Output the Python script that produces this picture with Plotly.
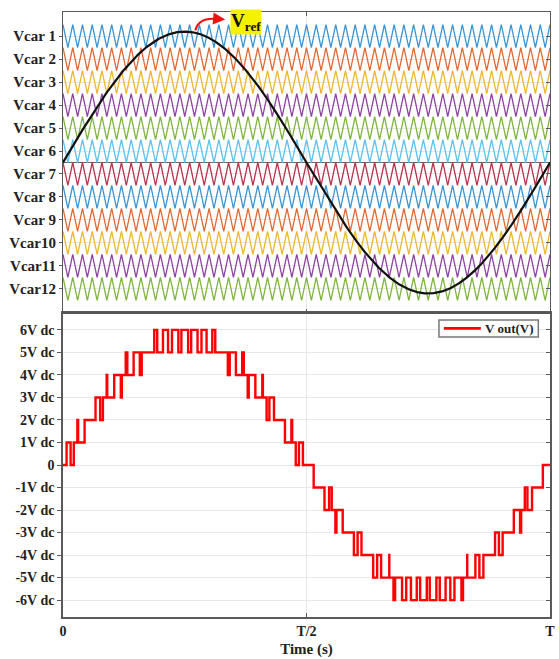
import numpy as np
import plotly.graph_objects as go

# ---------------- data ----------------
carrier_labels = ["Vcar 1", "Vcar 2", "Vcar 3", "Vcar 4", "Vcar 5", "Vcar 6",
                  "Vcar 7", "Vcar 8", "Vcar 9", "Vcar10", "Vcar11", "Vcar12"]
carrier_lower = [5, 4, 3, 2, 1, 0, -1, -2, -3, -4, -5, -6]   # lower level of each carrier band
carrier_cycles = 50            # carrier periods per fundamental period T
vref_amplitude = 5.7           # peak of the reference sine (in carrier-band units)
out_levels = [6, 5, 4, 3, 2, 1, 0, -1, -2, -3, -4, -5, -6]
out_labels = ["6V dc", "5V dc", "4V dc", "3V dc", "2V dc", "1V dc", "0",
              "-1V dc", "-2V dc", "-3V dc", "-4V dc", "-5V dc", "-6V dc"]
x_tickvals = [0, 0.5, 1]
x_ticklabels = ["0", "T/2", "T"]
legend_label = "V out(V)"

# ---------------- styles ----------------
carrier_colors = ["#3A95D2", "#E06A35", "#EDB72E", "#8E45A0", "#80B540", "#5CC2EE",
                  "#B83650", "#3A95D2", "#E06A35", "#EDB72E", "#8E45A0", "#80B540"]
FONT = "Liberation Serif"
AXC = "#5a5a5a"
GRID = "#e8e8e8"

fig = go.Figure()

# carriers (triangle waves, starting at the top of the band)
t_vert = np.linspace(0, 1, 2 * carrier_cycles + 1)
for lab, lo, col in zip(carrier_labels, carrier_lower, carrier_colors):
    yv = np.where(np.arange(t_vert.size) % 2 == 0, lo + 1, lo)
    fig.add_trace(go.Scatter(x=t_vert, y=yv, mode="lines", line=dict(color=col, width=1.3),
                             showlegend=False, hoverinfo="skip", xaxis="x", yaxis="y"))

# reference
t = np.linspace(0, 1, 20001)
vref = np.round(vref_amplitude * np.sin(2 * np.pi * t), 9)
fig.add_trace(go.Scatter(x=t, y=vref, mode="lines", line=dict(color="#111111", width=2.2),
                         showlegend=False, hoverinfo="skip", xaxis="x", yaxis="y"))

# output by comparing reference with carriers
phase = (t * carrier_cycles) % 1.0
tri = np.abs(1 - 2 * phase)  # 1 at t=0, 0 at half period
vout = np.zeros_like(t)
for lo in carrier_lower:
    vout += (vref >= lo + tri).astype(float)
vout -= sum(1 for lo in carrier_lower if lo < 0)
fig.add_trace(go.Scatter(x=t, y=vout, mode="lines", line=dict(color="#ff0000", width=2.4, shape="hv"),
                         name=legend_label, showlegend=False, hoverinfo="skip", xaxis="x2", yaxis="y2"))
# invisible traces for right-side inner tick axes
fig.add_trace(go.Scatter(x=[0], y=[0], mode="markers", marker=dict(opacity=0), showlegend=False,
                         hoverinfo="skip", xaxis="x2", yaxis="y3"))
fig.add_trace(go.Scatter(x=[0], y=[0], mode="markers", marker=dict(opacity=0), showlegend=False,
                         hoverinfo="skip", xaxis="x", yaxis="y4"))

split = 304 / 605
topfont = dict(family=FONT, size=15, color="#222222")
tickfont = dict(family=FONT, size=14, color="#222222")

fig.update_layout(
    width=559, height=659,
    margin=dict(l=63, r=4, t=12, b=42),
    paper_bgcolor="white", plot_bgcolor="white",
    font=dict(family=FONT, color="#222222"),
    xaxis=dict(domain=[0, 1], anchor="y", range=[0, 1], tickvals=x_tickvals, showticklabels=False,
               showgrid=True, gridcolor=GRID, zeroline=False, showline=True, linecolor=AXC, linewidth=1.2,
               mirror="ticks", ticks="inside", ticklen=4, tickcolor=AXC),
    yaxis=dict(domain=[split, 1], anchor="x", range=[-6.55, 6.55],
               tickvals=[lo + 0.5 for lo in carrier_lower], ticktext=[f"<b>{s}</b>" for s in carrier_labels],
               tickfont=topfont, showgrid=True, gridcolor=GRID, zeroline=True, zerolinecolor="#666666",
               zerolinewidth=1.2, showline=True, linecolor=AXC, linewidth=1.2, mirror=True,
               ticks="outside", ticklen=3, tickcolor=AXC),
    yaxis4=dict(overlaying="y", anchor="x", side="right", range=[-6.55, 6.55],
                tickvals=[lo + 0.5 for lo in carrier_lower], showticklabels=False, showgrid=False,
                zeroline=False, ticks="inside", ticklen=4, tickcolor=AXC),
    xaxis2=dict(domain=[0, 1], anchor="y2", range=[0, 1], tickvals=x_tickvals,
                ticktext=[f"<b>{s}</b>" for s in x_ticklabels], tickfont=tickfont,
                showgrid=True, gridcolor=GRID, zeroline=False, showline=True, linecolor=AXC, linewidth=1.5,
                mirror=True, ticks="inside", ticklen=4, tickcolor=AXC,
                title=dict(text="<b>Time (s)</b>", font=dict(family=FONT, size=15, color="#222222"),
                           standoff=6)),
    yaxis2=dict(domain=[0, split], anchor="x2", range=[-6.75, 6.75], tickvals=out_levels,
                ticktext=[f"<b>{s}</b>" for s in out_labels], tickfont=tickfont,
                showgrid=True, gridcolor=GRID, zeroline=False, showline=True, linecolor=AXC, linewidth=1.5,
                mirror=True, ticks="outside", ticklen=4, tickcolor=AXC),
    yaxis3=dict(overlaying="y2", anchor="x2", side="right", range=[-6.75, 6.75], tickvals=out_levels,
                showticklabels=False, showgrid=False, zeroline=False, ticks="inside", ticklen=4,
                tickcolor=AXC),
    showlegend=False,
)

# top border of the lower panel (thicker dark line)
fig.add_shape(type="line", xref="paper", yref="paper", x0=0, x1=1, y0=split, y1=split,
              line=dict(color="#555555", width=2))

# legend box drawn manually
fig.add_shape(type="rect", xref="paper", yref="paper", x0=0.772, x1=0.976, y0=0.463, y1=0.491,
              line=dict(color="#777777", width=1.5), fillcolor="white")
fig.add_shape(type="line", xref="paper", yref="paper", x0=0.782, x1=0.858, y0=0.477, y1=0.477,
              line=dict(color="#ff0000", width=2.6))
fig.add_annotation(x=0.862, y=0.477, xref="paper", yref="paper", xanchor="left", yanchor="middle",
                   text=f"<b>{legend_label}</b>", showarrow=False,
                   font=dict(family=FONT, size=13, color="#222222"))

# Vref label with curved red arrow
fig.add_annotation(x=0.375, y=6.13, xref="x", yref="y", text="<b>V<sub>ref</sub></b>", showarrow=False,
                   bgcolor="#f5f200", font=dict(family=FONT, size=19, color="#111111"), borderpad=0)
fig.add_shape(type="path", xref="x", yref="y",
              path="M 0.272 5.75 Q 0.278 6.35 0.320 6.24",
              line=dict(color="#ee1111", width=2.2))
fig.add_annotation(x=0.333, y=6.22, ax=0.316, ay=6.25, xref="x", yref="y", axref="x", ayref="y",
                   text="", showarrow=True, arrowhead=2, arrowsize=1.1, arrowwidth=2.2,
                   arrowcolor="#ee1111")

fig.write_html("out.html")
